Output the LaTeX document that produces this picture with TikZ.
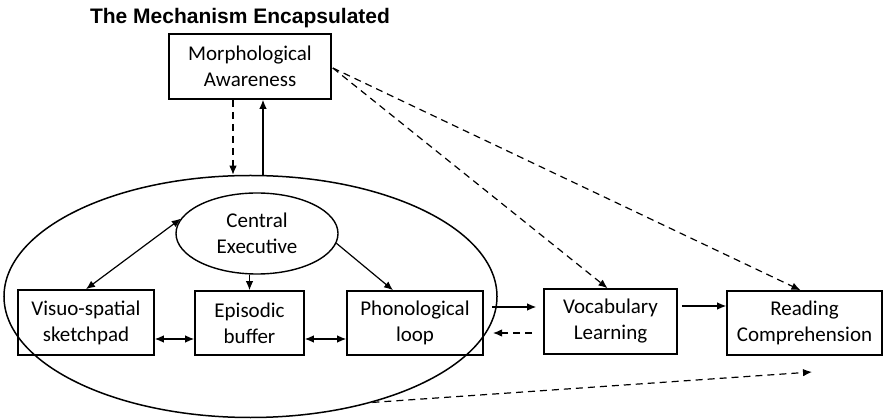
\documentclass[tikz,border=0pt]{standalone}
\usepackage{fontspec}
\usetikzlibrary{arrows.meta,calc,shapes.geometric}
\newfontfamily\boxfont{Carlito}
\newfontfamily\headfont{Liberation Sans}
\begin{document}
\begin{tikzpicture}[x=1pt,y=-1pt,
  every node/.style={inner sep=0pt},
  stepbox/.style={draw,line width=1.6pt,rectangle,align=center,
    font=\boxfont\fontsize{21}{26}\selectfont},
  link/.style={line width=1.2pt,-{Latex[length=9pt,width=7.5pt]}},
  twoway/.style={line width=1.2pt,{Latex[length=9pt,width=7.5pt]}-{Latex[length=9pt,width=7.5pt]}},
  dashlink/.style={link,dash pattern=on 7pt off 5pt}]
\useasboundingbox (0,0) rectangle (883,419);

% heading
\node[anchor=base,font=\headfont\bfseries\fontsize{21}{25}\selectfont] (title) at (240,24) {The Mechanism Encapsulated};

% working memory model
\node[draw,ellipse,line width=1.5pt,minimum width=493pt,minimum height=242pt] (wm) at (250.5,296.5) {};
\node[draw,ellipse,line width=1.4pt,minimum width=162pt,minimum height=81pt,align=center,
  font=\boxfont\fontsize{21}{26}\selectfont] (ce) at (257,233.5) {Central\\Executive};
\node[stepbox,minimum width=136pt,minimum height=65pt] (vs) at (86,322.5) {Visuo-spatial\\sketchpad};
\node[stepbox,minimum width=109pt,minimum height=64pt] (eb) at (249.5,323) {Episodic\\buffer};
\node[stepbox,minimum width=136pt,minimum height=64pt] (pl) at (415,323) {Phonological\\loop};

% outcome boxes
\node[stepbox,minimum width=162pt,minimum height=65pt] (ma) at (250,66.5) {Morphological\\Awareness};
\node[stepbox,minimum width=133pt,minimum height=65pt] (vl) at (610.5,321.5) {Vocabulary\\Learning};
\node[stepbox,minimum width=155pt,minimum height=64pt] (rc) at (804.5,323) {Reading\\Comprehension};

% free ends
\coordinate (plout) at (492,307);
\coordinate (plback) at (493,333);
\coordinate (rcbelow) at (812,372);

% links inside the model
\draw[twoway] (ce.169) -- (vs.north);
\draw[link] (ce.south -| eb.north) -- (eb.north);
\draw[link] (ce.-7) -- ($(pl.north)+(-22,0)$);
\draw[twoway] (vs.east |- 0,339) -- (eb.west |- 0,339);
\draw[twoway] (eb.east |- 0,339) -- (pl.west |- 0,339);

% morphological awareness and the model
\draw[dashlink] (ma.south -| 233,0) -- (wm.north -| 233,0);
\draw[link] (wm.north -| 263,0) -- (ma.south -| 263,0);

% links to the outcomes
\draw[link,shorten >=7pt] (plout) -- (vl.west |- plout);
\draw[dashlink] (vl.west |- plback) ++(-11,0) -- (plback);
\draw[link] ($(vl.east |- 0,306)+(4,0)$) -- (rc.west |- 0,306);
\draw[dashlink] ($(ma.east)+(1,1.5)$) -- ($(vl.north)+(-3,0)$);
\draw[dashlink] ($(ma.east)+(1,1.5)$) -- ($(rc.north)+(-4,0)$);
\draw[dashlink] (wm.-41.7) -- (rcbelow);
\end{tikzpicture}
\end{document}
